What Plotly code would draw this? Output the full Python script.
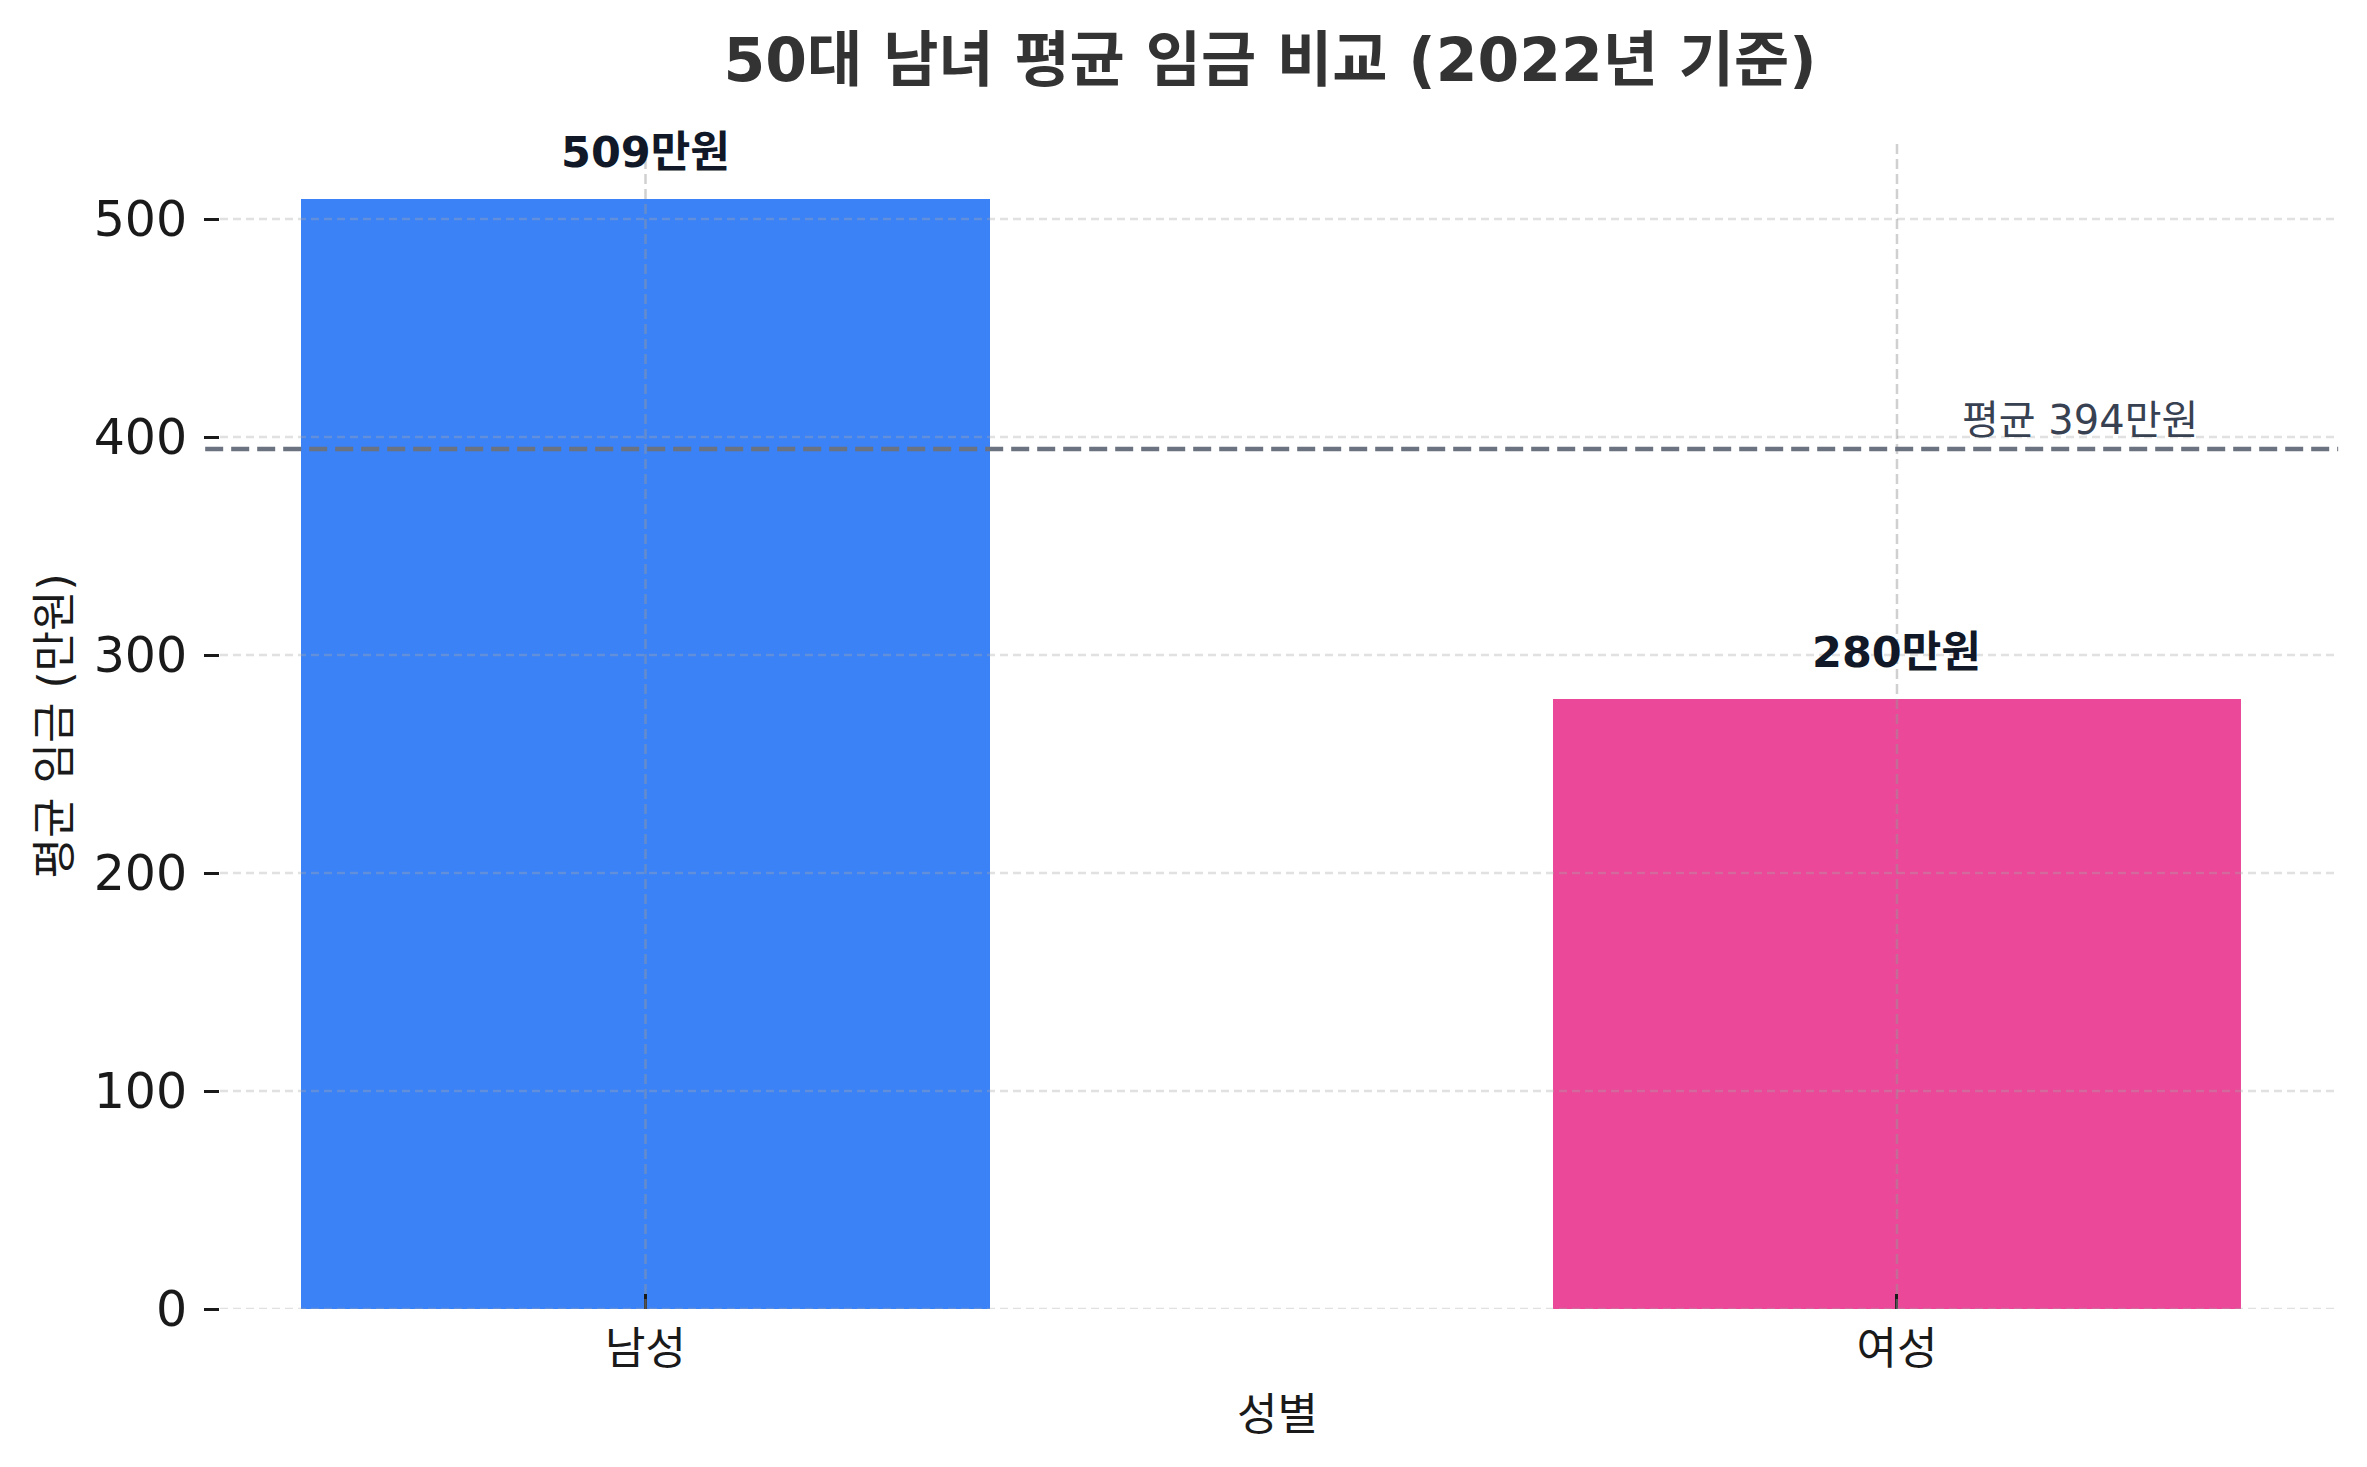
import plotly.graph_objects as go

# ---- data ----
categories = ["남성", "여성"]
values = [509, 280]
bar_colors = ["#3B82F6", "#EC4899"]
y_ticks = [0, 100, 200, 300, 400, 500]
title_text = "50대 남녀 평균 임금 비교 (2022년 기준)"
x_title = "성별"
y_title = "평균 임금 (만원)"
unit = "만원"

avg = sum(values) / len(values)
FONT = "DejaVu Sans, Noto Sans CJK KR, sans-serif"

x_pos = list(range(len(categories)))

# page has an 8px body margin; figure size/margins compensate for it
W, H = 2359, 1459
ML, MR, MT, MB = 212, 32, 136, 158
plot_h = H - MT - MB

fig = go.Figure()
fig.add_trace(go.Bar(
    x=x_pos, y=values, width=0.55,
    marker=dict(color=bar_colors, line=dict(width=0)),
    showlegend=False, hoverinfo="skip",
))

# gridlines drawn above bars (semi-transparent, dashed)
for t in y_ticks:
    fig.add_shape(type="line", xref="paper", yref="y", x0=0, x1=1, y0=t, y1=t,
                  line=dict(color="rgba(170,170,170,0.35)", width=2.5, dash="8px,5px"),
                  layer="above")
for xp in x_pos:
    fig.add_shape(type="line", xref="x", yref="paper", x0=xp, x1=xp, y0=0, y1=1,
                  line=dict(color="rgba(150,150,150,0.45)", width=2.5, dash="10px,5px"),
                  layer="above")

# average line
fig.add_shape(type="line", xref="paper", yref="y", x0=-0.007, x1=1.0015, y0=avg, y1=avg,
              line=dict(color="#6B7280", width=4.5, dash="18px,8px"), layer="above")
fig.add_annotation(x=1.05, y=avg, xref="x", yref="y", xanchor="left", yanchor="bottom",
                   yshift=4, showarrow=False, text=f"평균 {avg:.0f}{unit}",
                   font=dict(family=FONT, size=40, color="#374151"))

# bar value labels
for xp, v in zip(x_pos, values):
    fig.add_annotation(x=xp, y=v, xref="x", yref="y", xanchor="center", yanchor="bottom",
                       yshift=20, showarrow=False, text=f"<b>{v}{unit}</b>",
                       font=dict(family=FONT, size=43, color="#111827"))

# axis titles
fig.add_annotation(x=(54 - 220) / (W - ML - MR), y=0.5, xref="paper", yref="paper",
                   xanchor="center", yanchor="middle", textangle=-90, showarrow=False,
                   text=y_title, font=dict(family=FONT, size=44, color="#1a1a1a"))
fig.add_annotation(x=0.5, y=(1309 - 1414) / plot_h, xref="paper", yref="paper",
                   xanchor="center", yanchor="middle", showarrow=False,
                   text=x_title, font=dict(family=FONT, size=44, color="#1a1a1a"))

fig.update_layout(
    width=W, height=H,
    margin=dict(l=ML, r=MR, t=MT, b=MB),
    paper_bgcolor="white", plot_bgcolor="white",
    font=dict(family=FONT, color="#1a1a1a"),
    title=dict(text=f"<b>{title_text}</b>", x=0.4965, xref="paper", xanchor="center",
               y=1 - 52 / H, yref="container", yanchor="middle",
               font=dict(family=FONT, size=60, color="#333333")),
    bargap=0,
)
fig.update_xaxes(
    range=[-0.34, 1.35], tickmode="array", tickvals=x_pos, ticktext=categories,
    showgrid=False, zeroline=False, showline=False,
    ticks="inside", ticklen=15, tickwidth=3, tickcolor="#1a1a1a",
    tickfont=dict(family=FONT, size=44, color="#1a1a1a"), ticklabelstandoff=10,
)
fig.update_yaxes(
    range=[0, max(values) * 1.05], tickmode="array", tickvals=y_ticks,
    showgrid=False, zeroline=False, showline=False,
    ticks="outside", ticklen=15, tickwidth=3, tickcolor="#1a1a1a",
    tickfont=dict(family="DejaVu Sans", size=49, color="#1a1a1a"), ticklabelstandoff=7,
)

fig.write_html("out.html")
